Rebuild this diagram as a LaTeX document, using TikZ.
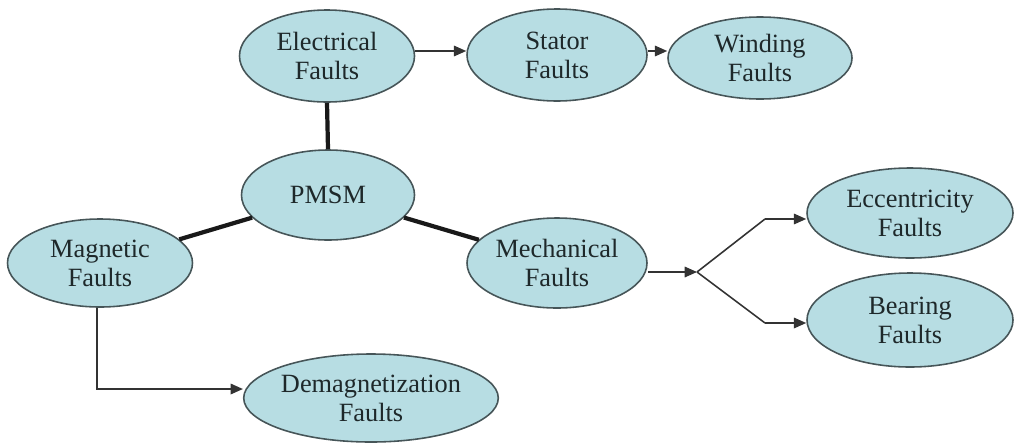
\documentclass[tikz,border=0pt]{standalone}
\usepackage{fontspec}
\newfontfamily\labelfont{Liberation Serif}
\usetikzlibrary{shapes.geometric,arrows.meta}
\definecolor{nodefill}{RGB}{183,221,227}
\definecolor{nodeline}{RGB}{70,85,88}
\definecolor{textcol}{RGB}{30,40,42}
\tikzset{
  fault/.style={ellipse, draw=nodeline, line width=0.9pt, fill=nodefill,
    inner sep=0pt, align=center, text=textcol,
    font=\labelfont\fontsize{15}{16.5}\selectfont},
  strong/.style={line width=2.4pt, draw=black!90},
  flow/.style={line width=0.9pt, draw=black!80,
    -{Triangle[length=7pt,width=6pt]}},
  plain/.style={line width=0.9pt, draw=black!80}
}
\begin{document}
\begin{tikzpicture}[x=0.02cm,y=-0.02cm]
\useasboundingbox (0,0) rectangle (1016,443);
% nodes
\node[fault, minimum width=175*0.02cm, minimum height=92*0.02cm] (elec) at (327,56) {Electrical\\Faults};
\node[fault, minimum width=180*0.02cm, minimum height=92*0.02cm] (stator) at (557,55) {Stator\\Faults};
\node[fault, minimum width=184*0.02cm, minimum height=82*0.02cm] (wind) at (760,58) {Winding\\Faults};
\node[fault, minimum width=173*0.02cm, minimum height=90*0.02cm] (pmsm) at (328,195) {PMSM};
\node[fault, minimum width=185*0.02cm, minimum height=88*0.02cm] (mag) at (100,263) {Magnetic\\Faults};
\node[fault, minimum width=180*0.02cm, minimum height=90*0.02cm] (mech) at (557,263) {Mechanical\\Faults};
\node[fault, minimum width=206*0.02cm, minimum height=90*0.02cm] (ecc) at (910,213) {Eccentricity\\Faults};
\node[fault, minimum width=206*0.02cm, minimum height=94*0.02cm] (bear) at (910,320) {Bearing\\Faults};
\node[fault, minimum width=243*0.02cm, minimum height=88*0.02cm] (demag) at (371,398) {Demagnetization\\Faults};
% thick links from the motor
\draw[strong] (elec.south) -- (pmsm.north);
\draw[strong] (pmsm) -- (mag);
\draw[strong] (pmsm) -- (mech);
% arrows
\draw[flow] (elec.east |- 0,51) -- (stator.west |- 0,51);
\draw[flow] (stator.east |- 0,51) -- (wind.west |- 0,51);
\coordinate (split) at (697,272);
\draw[flow] (mech.east |- split) -- (split);
\draw[plain] (split) -- (765,219);
\draw[flow] (765,219) -- (ecc.west |- 0,219);
\draw[plain] (split) -- (765,323);
\draw[flow] (765,323) -- (bear.west |- 0,323);
\draw[flow] (mag.south -| 97,0) -- (97,389) -- (demag.west |- 0,389);
\end{tikzpicture}
\end{document}
